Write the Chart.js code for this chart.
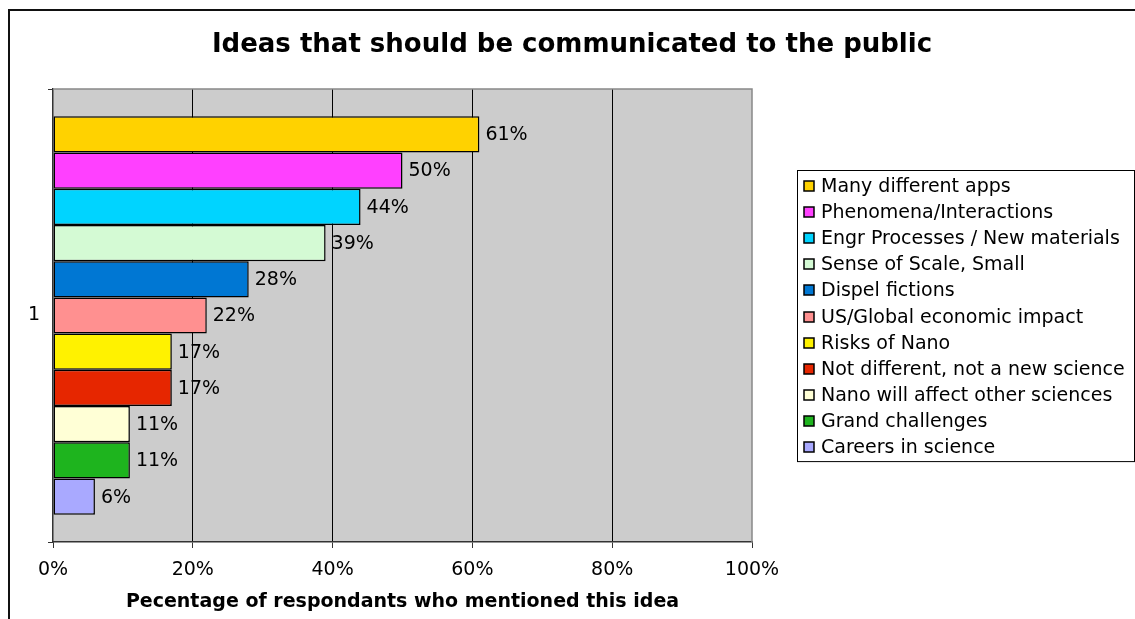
<!DOCTYPE html>
<html>
<head>
<meta charset="utf-8">
<title>Ideas that should be communicated to the public</title>
<script src="https://cdn.jsdelivr.net/npm/chart.js@4/dist/chart.umd.min.js"></script>
<style>
  html, body { margin: 0; padding: 0; background: #fff; }
  #wrap { width: 1135px; height: 619px; position: relative; }
</style>
</head>
<body>
<div id="wrap"><canvas id="chart"></canvas></div>
<script>
const categories = ["1"];
const ideaLabels = [
  "Many different apps",
  "Phenomena/Interactions",
  "Engr Processes / New materials",
  "Sense of Scale, Small",
  "Dispel fictions",
  "US/Global economic impact",
  "Risks of Nano",
  "Not different, not a new science",
  "Nano will affect other sciences",
  "Grand challenges",
  "Careers in science"
];
const percentValues = [61, 50, 44, 39, 28, 22, 17, 17, 11, 11, 6];
const ideaColors = [
  "#FFD200", "#FF40FF", "#00D4FF", "#D4FAD4", "#0077D3", "#FF9090",
  "#FFF200", "#E62600", "#FFFFD6", "#1EB41E", "#A9A9FF"
];
const xTicks = [0, 20, 40, 60, 80, 100];

const chartTitle = "Ideas that should be communicated to the public";
const xTitle = "Pecentage of respondants who mentioned this idea";
const FONT = "'DejaVu Sans', Verdana, sans-serif";

// gray plot background, plot border and outer frame
const framePlugin = {
  id: "frame",
  beforeDraw(chart) {
    const { ctx, chartArea: a } = chart;
    ctx.save();
    ctx.fillStyle = "#CCCCCC";
    ctx.fillRect(a.left, a.top, a.right - a.left, a.bottom - a.top);
    ctx.restore();
  },
  afterDraw(chart) {
    const { ctx, chartArea: a } = chart;
    ctx.save();
    ctx.strokeStyle = "#888";
    ctx.lineWidth = 1.5;
    ctx.beginPath();
    ctx.moveTo(a.left, a.top);
    ctx.lineTo(a.right, a.top);
    ctx.lineTo(a.right, a.bottom);
    ctx.stroke();

    ctx.strokeStyle = "#111";
    ctx.lineWidth = 2;
    ctx.strokeRect(9, 10, 1200, 700);

    ctx.fillStyle = "#000";
    ctx.font = "bold 26px " + FONT;
    ctx.textAlign = "center";
    ctx.textBaseline = "alphabetic";
    ctx.fillText(chartTitle, 572, 52);
    ctx.restore();
  }
};

// value labels to the right of each bar
const valueLabels = {
  id: "valueLabels",
  afterDatasetsDraw(chart) {
    const { ctx } = chart;
    ctx.save();
    ctx.fillStyle = "#000";
    ctx.font = "19px " + FONT;
    ctx.textAlign = "left";
    ctx.textBaseline = "middle";
    chart.data.datasets.forEach((ds, i) => {
      chart.getDatasetMeta(i).data.forEach((bar, j) => {
        ctx.fillText(ds.data[j] + "%", bar.x + 6, bar.y + 1);
      });
    });
    ctx.restore();
  }
};

// boxed legend on the right
const boxLegend = {
  id: "boxLegend",
  afterDraw(chart) {
    const { ctx } = chart;
    const left = 797.5, top = 170.5, rowH = 26.1;
    const rows = chart.data.datasets.length;
    ctx.save();
    ctx.fillStyle = "#fff";
    ctx.strokeStyle = "#000";
    ctx.lineWidth = 1;
    ctx.fillRect(left, top, 337, rows * rowH + 4);
    ctx.strokeRect(left, top, 337, rows * rowH + 4);
    ctx.font = "19px " + FONT;
    ctx.textBaseline = "middle";
    ctx.textAlign = "left";
    chart.data.datasets.forEach((ds, i) => {
      const cy = Math.round(top + 15.5 + i * rowH);
      ctx.fillStyle = ds.backgroundColor;
      ctx.fillRect(804, cy - 5, 10, 10);
      ctx.strokeStyle = "#000";
      ctx.lineWidth = 1.5;
      ctx.strokeRect(804, cy - 5, 10, 10);
      ctx.fillStyle = "#000";
      ctx.fillText(ds.label, 821, cy + 1);
    });
    ctx.restore();
  }
};

const datasets = ideaLabels.map((label, i) => ({
  label: label,
  data: [percentValues[i]],
  backgroundColor: ideaColors[i],
  borderColor: "#000",
  borderWidth: 1.5,
  borderSkipped: false,
  categoryPercentage: 0.88,
  barPercentage: 1
}));

new Chart(document.getElementById("chart"), {
  type: "bar",
  data: { labels: categories, datasets: datasets },
  options: {
    indexAxis: "y",
    responsive: true,
    maintainAspectRatio: false,
    animation: false,
    devicePixelRatio: 1,
    layout: { padding: { top: 89, right: 383, bottom: 0, left: 0 } },
    plugins: {
      legend: { display: false },
      title: { display: false },
      tooltip: { enabled: false }
    },
    scales: {
      x: {
        type: "linear",
        min: 0,
        max: 100,
        afterFit(scale) { scale.height = 77; },
        afterBuildTicks(scale) { scale.ticks = xTicks.map(v => ({ value: v })); },
        ticks: {
          callback: v => v + "%",
          color: "#000",
          font: { family: FONT, size: 19 },
          padding: 11,
          maxRotation: 0
        },
        grid: {
          color: c => (c.tick && c.tick.value > 0 && c.tick.value < 100) ? "#000" : "rgba(0,0,0,0)",
          tickColor: "#333",
          tickLength: 6,
          lineWidth: 1
        },
        border: { display: true, color: "#333", width: 1.5 },
        title: {
          display: true,
          text: xTitle,
          color: "#000",
          font: { family: FONT, size: 19, weight: "bold" },
          padding: { top: 0, bottom: 6 }
        }
      },
      y: {
        type: "category",
        afterFit(scale) { scale.width = 53; },
        ticks: {
          color: "#000",
          font: { family: FONT, size: 19 },
          padding: 8
        },
        grid: {
          offset: true,
          drawOnChartArea: false,
          color: "#333",
          tickLength: 5
        },
        border: { display: true, color: "#333", width: 1.5 }
      }
    }
  },
  plugins: [framePlugin, valueLabels, boxLegend]
});
</script>
</body>
</html>
